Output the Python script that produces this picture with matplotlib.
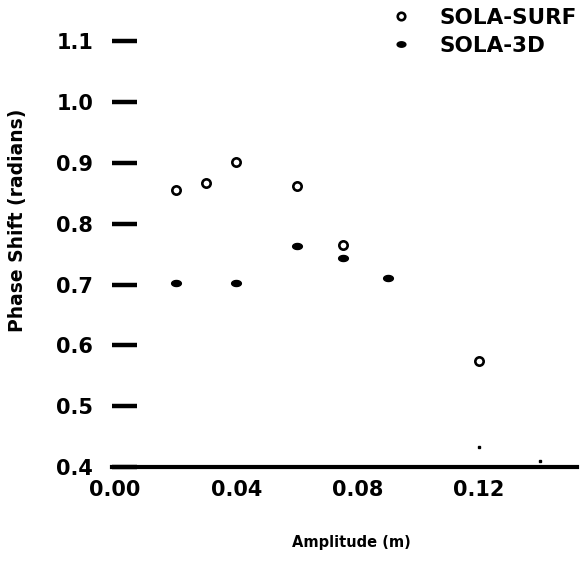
import numpy as np
import matplotlib
matplotlib.use('Agg')
import matplotlib.pyplot as plt
from matplotlib.path import Path

# values
surf_amp = [0.02, 0.03, 0.04, 0.06, 0.075, 0.12]
surf_phase = [0.855, 0.867, 0.902, 0.862, 0.765, 0.575]

sola3d_amp = [0.02, 0.04, 0.06, 0.075, 0.09]
sola3d_phase = [0.703, 0.703, 0.764, 0.744, 0.711]

# faint specks near the axis
speck_amp = [0.12, 0.14]
speck_phase = [0.433, 0.41]

xticks = [0.00, 0.04, 0.08, 0.12]
xtick_labels = ['0.00', '0.04', '0.08', '0.12']
yticks = [0.4, 0.5, 0.6, 0.7, 0.8, 0.9, 1.0, 1.1]
ytick_labels = ['0.4', '0.5', '0.6', '0.7', '0.8', '0.9', '1.0', '1.1']

plt.rcParams['font.family'] = 'DejaVu Sans'
plt.rcParams['font.weight'] = 'bold'

# flat blob used for the SOLA-3D dash marker
t = np.linspace(0, 2 * np.pi, 40)
dash = Path(np.column_stack([np.cos(t), 0.62 * np.sin(t)]), closed=True)

fig = plt.figure(figsize=(5.81, 5.65), dpi=100)
W, H = 581, 565
ax = fig.add_axes([112 / W, 1 - 467 / H, (577 - 112) / W, (467 - 5) / H])

ax.plot(surf_amp, surf_phase, linestyle='none', marker='o', markersize=6,
        markerfacecolor='none', markeredgecolor='black', markeredgewidth=1.9,
        label='SOLA-SURF', clip_on=False)
ax.plot(sola3d_amp, sola3d_phase, linestyle='none', marker=dash, markersize=7,
        color='black', label='SOLA-3D', clip_on=False)
ax.plot(speck_amp, speck_phase, linestyle='none', marker='s', markersize=2,
        color='black', clip_on=False)

ax.set_xlim(-0.001, 0.1523)
ax.set_ylim(0.4, 1.16)

for s in ['left', 'top', 'right']:
    ax.spines[s].set_visible(False)
ax.spines['bottom'].set_linewidth(3.0)

ax.set_xticks(xticks)
ax.set_xticklabels(xtick_labels)
ax.set_yticks(yticks)
ax.set_yticklabels(ytick_labels)
ax.tick_params(axis='x', length=0, pad=9, labelsize=15)
ax.tick_params(axis='y', direction='in', length=18, width=3.2, pad=13.5,
               labelsize=15)

ax.set_xlabel('Amplitude (m)', fontsize=10.5, fontweight='bold')
ax.xaxis.set_label_coords((351 - 112) / 465, (467 - 535) / 462)
ax.set_ylabel('Phase Shift (radians)', fontsize=13.5, fontweight='bold')
ax.yaxis.set_label_coords((27 - 112) / 465, (467 - 220) / 462)

ax.legend(loc='upper left', bbox_to_anchor=(390 / W, 1 - 8 / H),
          bbox_transform=fig.transFigure, frameon=False, fontsize=15.5,
          handlelength=1.0, handletextpad=1.3, labelspacing=0.35,
          borderpad=0, borderaxespad=0, markerscale=0.9)

fig.savefig('out.png', dpi=100)
